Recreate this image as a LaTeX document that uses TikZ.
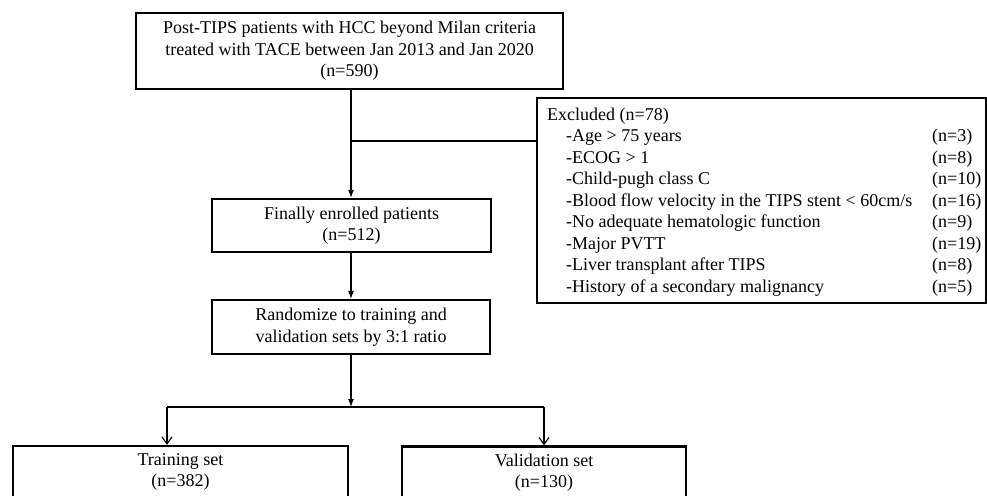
\documentclass[tikz,border=0pt]{standalone}
\usepackage{fontspec}
\setmainfont{Liberation Serif}
\usetikzlibrary{arrows.meta}
\begin{document}
\begin{tikzpicture}[x=1pt,y=-1pt,
  box/.style={draw, line width=2.3pt, rectangle, align=center, inner sep=0pt},
  conn/.style={line width=1.1pt},
  arr/.style={conn, -{Latex[length=8pt,width=6pt]}},
  varr/.style={conn, -{Straight Barb[length=7pt,width=10pt,line width=1.1pt]}},
  lbl/.style={inner sep=0pt, anchor=base west},
  every node/.style={font=\fontsize{18}{21.5}\selectfont}]
\useasboundingbox (0,0) rectangle (987,495);
\clip (0,0) rectangle (987,495);
\node[box, minimum width=427, minimum height=76] (top) at (349.5,51)
  {Post-TIPS patients with HCC beyond Milan criteria\\treated with TACE between Jan 2013 and Jan 2020\\(n=590)};
\node[box, minimum width=279, minimum height=53] (fin) at (351.5,225.5)
  {Finally enrolled patients\\(n=512)};
\node[box, minimum width=278, minimum height=54] (rnd) at (351,327)
  {Randomize to training and\\validation sets by 3:1 ratio};
\node[box, minimum width=449, minimum height=205] (exc) at (761.5,200.5) {};
\node[box, minimum width=335, minimum height=52] (trn) at (180.5,472)
  {Training set\\(n=382)};
\node[box, minimum width=284, minimum height=52] (val) at (544,472.5)
  {Validation set\\(n=130)};
% excluded text
\node[lbl] (e0) at (547,120.5) {Excluded (n=78)};
\node[lbl] (e1) at (566,141.5) {-Age > 75 years};
\node[lbl] (e2) at (566,163) {-ECOG > 1};
\node[lbl] (e3) at (566,184.5) {-Child-pugh class C};
\node[lbl] (e4) at (566,206) {-Blood flow velocity in the TIPS stent < 60cm/s};
\node[lbl] (e5) at (566,227.5) {-No adequate hematologic function};
\node[lbl] (e6) at (566,249) {-Major PVTT};
\node[lbl] (e7) at (566,270.5) {-Liver transplant after TIPS};
\node[lbl] (e8) at (566,292) {-History of a secondary malignancy};
\node[lbl] (n1) at (932,141.5) {(n=3)};
\node[lbl] (n2) at (932,163) {(n=8)};
\node[lbl] (n3) at (932,184.5) {(n=10)};
\node[lbl] (n4) at (932,206) {(n=16)};
\node[lbl] (n5) at (932,227.5) {(n=9)};
\node[lbl] (n6) at (932,249) {(n=19)};
\node[lbl] (n7) at (932,270.5) {(n=8)};
\node[lbl] (n8) at (932,292) {(n=5)};
% connectors
\coordinate (j1) at (351,141);
\coordinate (sp) at (351,407);
\coordinate (tl) at (167,407);
\draw[arr] (top.south -| j1) -- (fin.north -| j1);
\draw[conn] (j1) -- (j1 -| exc.west);
\draw[arr] (fin.south -| j1) -- (rnd.north -| j1);
\draw[arr] (rnd.south -| j1) -- (sp);
\draw[conn] (tl) -- (sp -| val.north);
\draw[varr] (tl) -- (tl |- trn.north);
\draw[varr] (sp -| val.north) -- (val.north);
\end{tikzpicture}
\end{document}
